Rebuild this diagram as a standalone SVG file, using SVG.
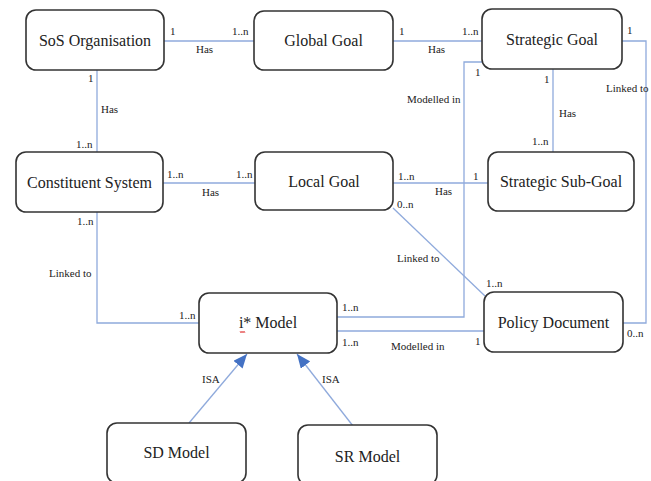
<svg xmlns="http://www.w3.org/2000/svg" width="651" height="481" viewBox="0 0 651 481">
<style>
text{font-family:'Liberation Serif','Times New Roman',Times,'DejaVu Serif',serif}
.node rect{fill:#fff;stroke:#333;stroke-width:1.6}
.node text{font-size:16px;fill:#222;text-anchor:middle}
.conn path,.conn line{fill:none;stroke:#8FAADC;stroke-width:1.3}
.lbl{font-size:11px;fill:#222}
</style>
<defs>
<marker id="tri" viewBox="0 0 14 12" refX="14" refY="6" markerWidth="14" markerHeight="12" orient="auto" markerUnits="userSpaceOnUse">
<path d="M0,0 L14,6 L0,12 z" fill="#4472C4"/>
</marker>
</defs>
<rect width="651" height="481" fill="#fff"/>
<g id="connectors" class="conn">
<line x1="164" y1="41" x2="254" y2="41"/>
<line x1="393" y1="41" x2="482" y2="41"/>
<line x1="97" y1="70" x2="97" y2="152"/>
<line x1="163" y1="183" x2="255" y2="183"/>
<line x1="393" y1="183" x2="488" y2="183"/>
<line x1="553" y1="69" x2="553" y2="152"/>
<path d="M622,41 H646 V323 H623"/>
<path d="M482,62 H464 V317 H337"/>
<line x1="337" y1="331" x2="484" y2="331"/>
<line x1="393" y1="208" x2="485" y2="296"/>
<path d="M97,212 V323 H199"/>
<line x1="189" y1="423" x2="247" y2="354" marker-end="url(#tri)"/>
<line x1="353" y1="426" x2="297" y2="354" marker-end="url(#tri)"/>
</g>
<g id="labels" class="lbl">
<text x="170" y="35">1</text>
<text x="232" y="35">1..n</text>
<text x="196" y="53">Has</text>
<text x="399" y="35">1</text>
<text x="462" y="35">1..n</text>
<text x="428" y="53">Has</text>
<text x="88" y="82">1</text>
<text x="101" y="113">Has</text>
<text x="76" y="148">1..n</text>
<text x="167" y="178">1..n</text>
<text x="236" y="178">1..n</text>
<text x="202" y="196">Has</text>
<text x="398" y="180">1..n</text>
<text x="473" y="180">1</text>
<text x="435" y="195">Has</text>
<text x="627" y="34">1</text>
<text x="606" y="92">Linked to</text>
<text x="475" y="76">1</text>
<text x="407" y="103">Modelled in</text>
<text x="544" y="83">1</text>
<text x="559" y="117">Has</text>
<text x="532" y="145">1..n</text>
<text x="397" y="208">0..n</text>
<text x="397" y="262">Linked to</text>
<text x="486" y="287">1..n</text>
<text x="342" y="311">1..n</text>
<text x="342" y="346">1..n</text>
<text x="391" y="350">Modelled in</text>
<text x="475" y="345">1</text>
<text x="627" y="337">0..n</text>
<text x="77" y="225">1..n</text>
<text x="49" y="277">Linked to</text>
<text x="179" y="319">1..n</text>
<text x="202" y="383">ISA</text>
<text x="322" y="383">ISA</text>
</g>
<g id="sos-organisation" class="node"><rect x="26" y="10" width="138" height="60" rx="10"/><text x="95" y="46">SoS Organisation</text></g>
<g id="global-goal" class="node"><rect x="254" y="11" width="139" height="59" rx="10"/><text x="323.5" y="46">Global Goal</text></g>
<g id="strategic-goal" class="node"><rect x="482" y="9" width="140" height="60" rx="10"/><text x="552" y="45">Strategic Goal</text></g>
<g id="constituent-system" class="node"><rect x="16" y="152" width="147" height="60" rx="10"/><text x="89.5" y="188">Constituent System</text></g>
<g id="local-goal" class="node"><rect x="255" y="152" width="138" height="58" rx="10"/><text x="324" y="187">Local Goal</text></g>
<g id="strategic-sub-goal" class="node"><rect x="488" y="152" width="146" height="59" rx="10"/><text x="561" y="187">Strategic Sub-Goal</text></g>
<g id="i-model" class="node"><rect x="199" y="293" width="138" height="60" rx="10"/><text x="268" y="328">i* Model</text>
<path d="M240,331 l1,2 l1,-2 l1,2 l1,-2 l1,2" fill="none" stroke="#e03030" stroke-width="0.7"/></g>
<g id="policy-document" class="node"><rect x="484" y="292" width="139" height="60" rx="10"/><text x="553.5" y="328">Policy Document</text></g>
<g id="sd-model" class="node"><rect x="107" y="423" width="139" height="60" rx="10"/><text x="176.5" y="458">SD Model</text></g>
<g id="sr-model" class="node"><rect x="298" y="425" width="139" height="60" rx="10"/><text x="367.5" y="462">SR Model</text></g>
</svg>
